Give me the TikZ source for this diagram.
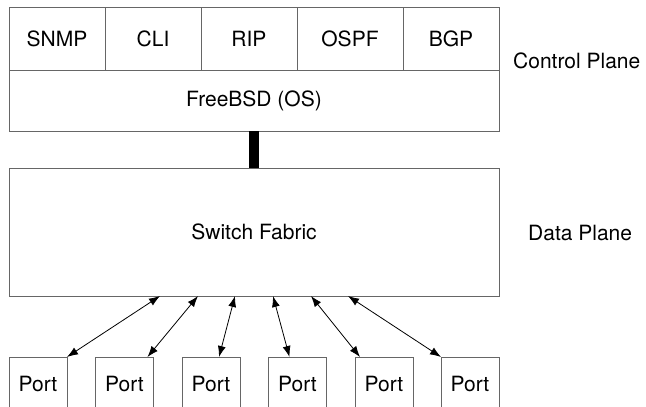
\documentclass[tikz,border=0pt]{standalone}
\usepackage{fontspec}
\setmainfont{TeX Gyre Heros}
\usepackage{tikz}
\usetikzlibrary{positioning,calc,arrows.meta}

\tikzset{
  cell/.style={draw=black!60, line width=1pt, minimum height=63pt, inner sep=0pt, outer sep=0pt, anchor=north west},
  port/.style={cell, minimum width=58pt, minimum height=54pt},
  link/.style={{Latex[length=11pt,width=8pt]}-{Latex[length=11pt,width=8pt]}, line width=0.8pt},
}

\begin{document}
\begin{tikzpicture}[x=1pt, y=-1pt, font=\fontsize{21}{25}\selectfont]
    \clip (0,0) rectangle (646,407);

    % Control plane: protocols sitting on the OS
    \node[cell, minimum width=96pt] (snmp) at (9,7) {SNMP};
    \node[cell, minimum width=96pt] (cli) at (snmp.north east) {CLI};
    \node[cell, minimum width=96pt] (rip) at (cli.north east) {RIP};
    \node[cell, minimum width=106pt] (ospf) at (rip.north east) {OSPF};
    \node[cell, minimum width=96pt] (bgp) at (ospf.north east) {BGP};
    \node[cell, minimum width=490pt, minimum height=61pt] (os) at (snmp.south west) {FreeBSD (OS)};
    \node[anchor=west, inner sep=0pt] (ctrl) at (513,61) {Control Plane};

    % Data plane
    \node[cell, minimum width=490pt, minimum height=128pt] (fabric) at (9,168) {Switch Fabric};
    \node[anchor=west, inner sep=0pt] (data) at (528,233) {Data Plane};
    \draw[line width=10pt] (os.south) -- (fabric.north);

    % Ports and their links to the fabric
    \foreach \i/\x in {1/9, 2/95.5, 3/182, 4/268.5, 5/355, 6/441}
        \node[port] (p\i) at (\x,357) {Port};
    \foreach \i/\fx/\px in {1/160/58, 2/198/52, 3/235/37, 4/273/21, 5/311/5, 6/348/0}
        \draw[link] ($(fabric.south west)+(\fx-9,0)$) -- ($(p\i.north west)+(\px,0)$);
\end{tikzpicture}
\end{document}
